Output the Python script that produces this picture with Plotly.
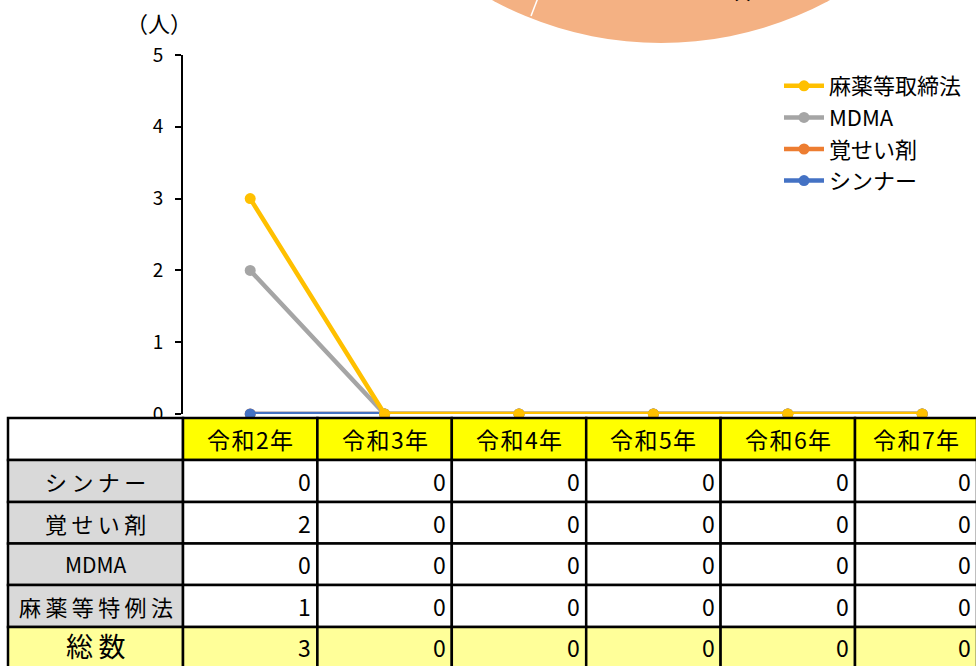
import plotly.graph_objects as go

# ---------------- data ----------------
years = ["令和2年", "令和3年", "令和4年", "令和5年", "令和6年", "令和7年"]

# chart series (as drawn in the line chart)
name_mayaku = "麻薬等取締法"
name_mdma = "MDMA"
name_kakusei = "覚せい剤"
name_thinner = "シンナー"
vals_mayaku = [3, 0, 0, 0, 0, 0]
vals_mdma = [2, 0, 0, 0, 0, 0]
vals_kakusei = [0, 0, 0, 0, 0, 0]
vals_thinner = [0, 0, 0, 0, 0, 0]

y_ticks = [0, 1, 2, 3, 4, 5]
unit_label = "（人）"

# table below the chart
row_labels = ["シンナー", "覚せい剤", "MDMA", "麻薬等特例法"]
tbl_thinner = [0, 0, 0, 0, 0, 0]
tbl_kakusei = [2, 0, 0, 0, 0, 0]
tbl_mdma = [0, 0, 0, 0, 0, 0]
tbl_tokurei = [1, 0, 0, 0, 0, 0]
total_label = "総数"
tbl_total = [3, 0, 0, 0, 0, 0]

# ---------------- layout geometry ----------------
W, H = 976, 666
L, R, T, B = 183, 0, 55, 252
PW, PH = W - L - R, H - T - B
PX_PER_CAT = 134.4
x_range = [-0.5, -0.5 + PW / PX_PER_CAT]

FONT = "Noto Sans CJK JP"


def py(p):  # pixel y -> paper y
    return (H - B - p) / PH


def pxp(p):  # pixel x -> paper x
    return (p - L) / PW


def catx(v):  # category coordinate -> paper x (same scale as x axis)
    return (v - x_range[0]) / (x_range[1] - x_range[0])


colors = {
    name_mayaku: "#FFC000",
    name_mdma: "#A5A5A5",
    name_kakusei: "#ED7D31",
    name_thinner: "#4472C4",
}

fig = go.Figure()
# draw order: orange, blue, gray, yellow (yellow on top)
series = [
    (name_kakusei, vals_kakusei, 3),
    (name_thinner, vals_thinner, 4),
    (name_mdma, vals_mdma, 2),
    (name_mayaku, vals_mayaku, 1),
]
for name, vals, rank in series:
    fig.add_trace(go.Scatter(
        x=years, y=vals, name=name, mode="lines+markers",
        line=dict(color=colors[name], width=4.5),
        marker=dict(color=colors[name], size=11),
        legendrank=rank, legendgroup=name, cliponaxis=False,
    ))

shapes = []
annotations = []

# pie fragment at top
cx, cy, r = 661, -311, 354
shapes.append(dict(type="circle", xref="paper", yref="paper",
                   x0=pxp(cx - r), x1=pxp(cx + r), y0=py(cy + r), y1=py(cy - r),
                   fillcolor="#F4B183", line=dict(width=0), layer="below"))
shapes.append(dict(type="line", xref="paper", yref="paper",
                   x0=pxp(541), y0=py(-10), x1=pxp(531), y1=py(16),
                   line=dict(color="white", width=1.5), layer="below"))
annotations.append(dict(xref="paper", yref="paper", x=pxp(742), y=py(-6),
                        text="人", showarrow=False, font=dict(family=FONT, size=15, color="black"),
                        xanchor="center", yanchor="middle"))

# unit label
annotations.append(dict(xref="paper", yref="paper", x=pxp(159), y=py(22),
                        text=unit_label, showarrow=False,
                        font=dict(family=FONT, size=22, color="black"),
                        xanchor="center", yanchor="middle"))

# ---------------- table ----------------
row_edges = [418, 460, 502, 543.5, 585, 627, 672]
first_x0 = pxp(8)
first_x1 = catx(-0.5)
table_right = pxp(977)
table_rows = [tbl_thinner, tbl_kakusei, tbl_mdma, tbl_tokurei]


def col_bounds(i):
    return catx(i - 0.5), min(catx(i + 0.5), table_right)


def cell(x0, x1, ytop, ybot, fill):
    shapes.append(dict(type="rect", xref="paper", yref="paper",
                       x0=x0, x1=x1, y0=py(ybot), y1=py(ytop),
                       fillcolor=fill, line=dict(color="black", width=2.5),
                       layer="above"))


def text(x, ytop, ybot, s, size, anchor="center", xshift=0):
    annotations.append(dict(xref="paper", yref="paper", x=x, y=py((ytop + ybot) / 2),
                            text=s, showarrow=False, xanchor=anchor, yanchor="middle",
                            xshift=xshift,
                            font=dict(family=FONT, size=size, color="black")))


# header row
cell(first_x0, first_x1, row_edges[0], row_edges[1], "white")
for i, yname in enumerate(years):
    x0, x1 = col_bounds(i)
    cell(x0, x1, row_edges[0], row_edges[1], "#FFFF00")
    text((x0 + x1) / 2, row_edges[0], row_edges[1], "\u200a".join(yname), 23)

# data rows
for k, (lab, vals) in enumerate(zip(row_labels, table_rows)):
    yt, yb = row_edges[k + 1], row_edges[k + 2]
    cell(first_x0, first_x1, yt, yb, "#D9D9D9")
    lab_txt = lab if lab == "MDMA" else "\u2009".join(lab)
    text((first_x0 + first_x1) / 2, yt, yb, lab_txt, 22 if lab != "MDMA" else 21)
    for i, v in enumerate(vals):
        x0, x1 = col_bounds(i)
        cell(x0, x1, yt, yb, "white")
        text(x1, yt, yb, str(v), 23, anchor="right", xshift=-4)

# total row
yt, yb = row_edges[5], row_edges[6]
cell(first_x0, first_x1, yt, yb, "#FFFF99")
text((first_x0 + first_x1) / 2, yt, yb - 8, "\u2009".join(total_label), 27)
for i, v in enumerate(tbl_total):
    x0, x1 = col_bounds(i)
    cell(x0, x1, yt, yb, "#FFFF99")
    text(x1, yt, yb - 6, str(v), 23, anchor="right", xshift=-4)

fig.update_layout(
    width=W, height=H,
    margin=dict(l=L, r=R, t=T, b=B, pad=0, autoexpand=False),
    paper_bgcolor="white", plot_bgcolor="white",
    font=dict(family=FONT, color="black"),
    showlegend=True,
    legend=dict(x=pxp(779), y=py(65),
                xanchor="left", yanchor="top", bgcolor="rgba(0,0,0,0)",
                font=dict(family=FONT, size=22, color="black"),
                traceorder="grouped", tracegroupgap=0, itemwidth=40),
    shapes=shapes,
    annotations=annotations,
)
fig.update_xaxes(range=x_range, visible=False, showgrid=False, zeroline=False)
fig.update_yaxes(range=[0, 5], tickvals=y_ticks, showgrid=False, zeroline=False,
                 showline=True, linecolor="black", linewidth=2,
                 ticks="outside", ticklen=6, tickwidth=2, tickcolor="black",
                 ticklabelstandoff=8,
                 tickfont=dict(family=FONT, size=19, color="black"))

fig.write_html("out.html", config={"displayModeBar": False},
               post_script="document.body.style.margin='0';document.body.style.overflow='hidden';")
